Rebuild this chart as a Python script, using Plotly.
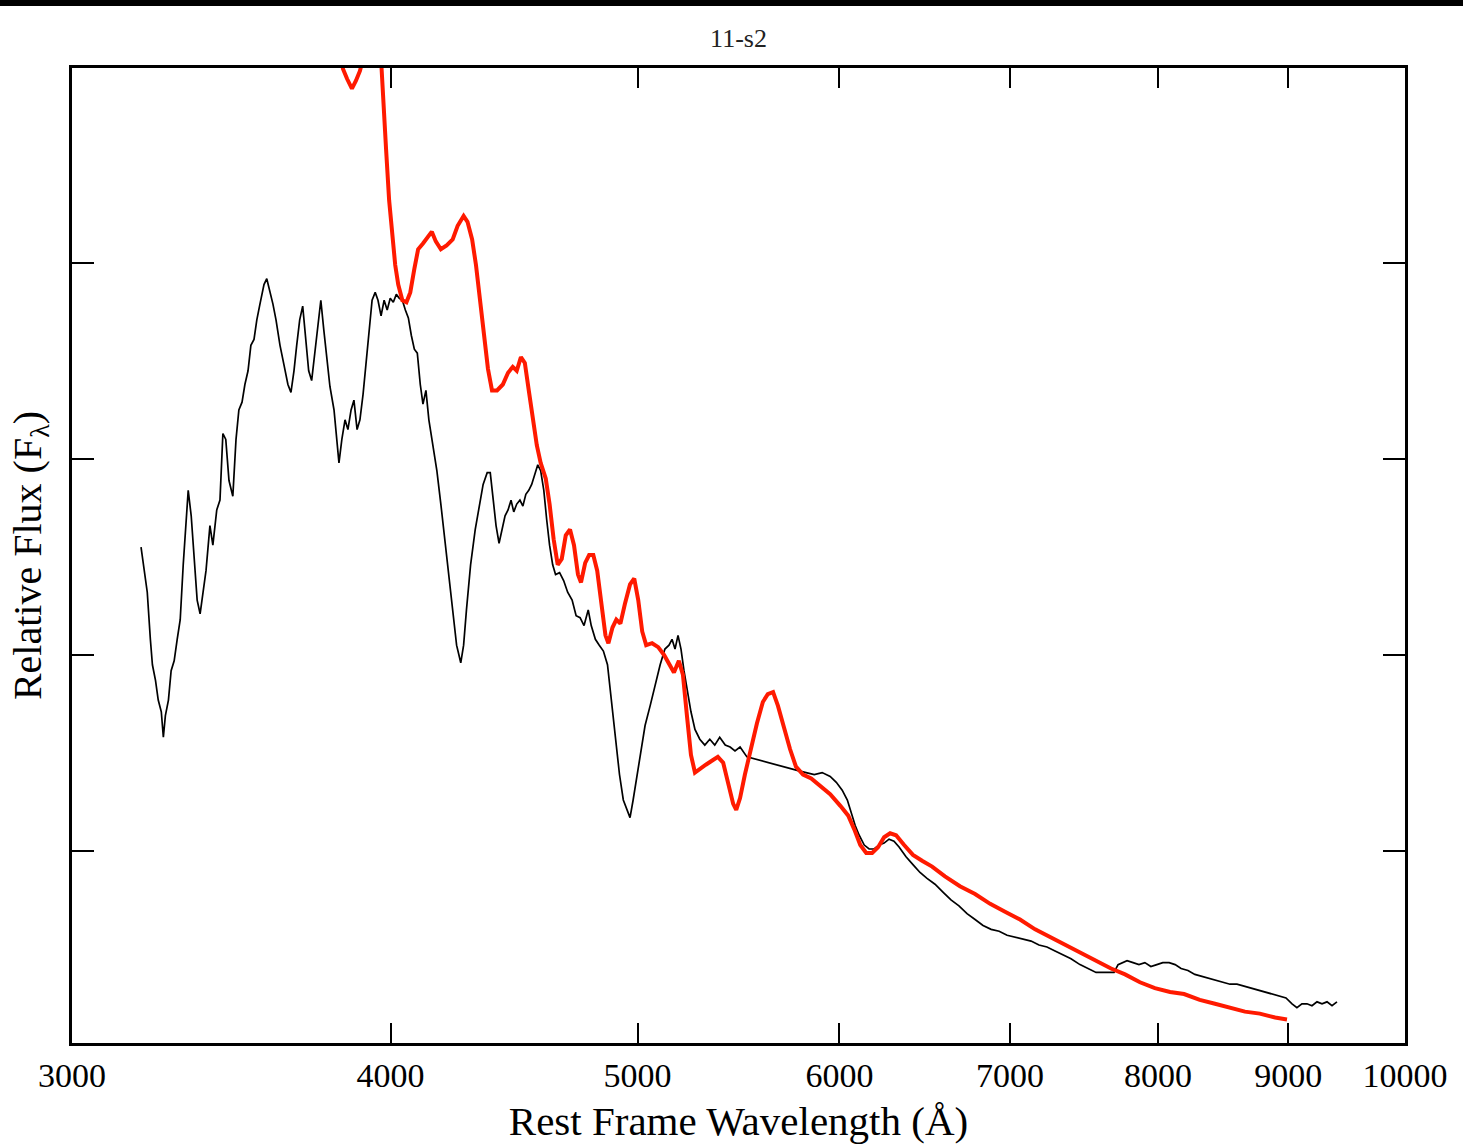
import plotly.graph_objects as go

# Observed spectrum (black)
obs_wave = [3193, 3205, 3211, 3220, 3226, 3235, 3243, 3252, 3258, 3264, 3273, 3281, 3290, 3299, 3308,
            3317, 3326, 3332, 3341, 3350, 3359, 3368, 3377, 3386, 3398, 3407, 3419, 3429, 3438, 3447,
            3457, 3469, 3479, 3488, 3498, 3507, 3517, 3526, 3536, 3545, 3555, 3568, 3577, 3587, 3597,
            3607, 3620, 3633, 3646, 3656, 3666, 3675, 3685, 3695, 3705, 3715, 3725, 3735, 3745, 3756,
            3766, 3777, 3787, 3801, 3811, 3818, 3828, 3839, 3849, 3860, 3870, 3881, 3891, 3902, 3912,
            3923, 3934, 3945, 3955, 3966, 3977, 3988, 3999, 4010, 4021, 4032, 4043, 4054, 4065, 4076,
            4087, 4098, 4109, 4119, 4130, 4141, 4156, 4171, 4186, 4201, 4216, 4231, 4246, 4262, 4273,
            4284, 4300, 4318, 4334, 4349, 4365, 4377, 4389, 4400, 4412, 4424, 4436, 4448, 4460, 4471,
            4483, 4496, 4508, 4520, 4532, 4544, 4557, 4569, 4581, 4594, 4606, 4618, 4631, 4643, 4660,
            4677, 4694, 4713, 4730, 4747, 4764, 4782, 4795, 4813, 4830, 4848, 4866, 4883, 4901, 4919,
            4936, 4954, 4966, 4980, 4998, 5016, 5034, 5057, 5080, 5103, 5125, 5144, 5158, 5172, 5186,
            5200, 5214, 5228, 5247, 5266, 5289, 5313, 5337, 5361, 5385, 5412, 5436, 5460, 5485, 5519,
            5554, 5589, 5624, 5661, 5697, 5738, 5780, 5822, 5865, 5907, 5950, 5983, 6015, 6043, 6064,
            6086, 6108, 6136, 6163, 6191, 6219, 6247, 6275, 6303, 6332, 6372, 6412, 6453, 6494, 6541,
            6588, 6636, 6684, 6733, 6782, 6831, 6881, 6931, 6981, 7032, 7083, 7134, 7185, 7237, 7290,
            7343, 7396, 7456, 7510, 7565, 7620, 7668, 7689, 7717, 7745, 7780, 7822, 7864, 7906, 7949,
            7992, 8035, 8081, 8125, 8169, 8220, 8271, 8323, 8375, 8431, 8485, 8538, 8592, 8646, 8701,
            8756, 8812, 8869, 8925, 8981, 9030, 9070, 9111, 9153, 9194, 9236, 9278, 9320, 9362, 9404]
obs_flux = [2.55, 2.41, 2.32, 2.08, 1.95, 1.87, 1.77, 1.71, 1.58, 1.69, 1.77, 1.92, 1.97, 2.08, 2.18,
            2.46, 2.69, 2.84, 2.71, 2.48, 2.28, 2.21, 2.33, 2.43, 2.66, 2.56, 2.74, 2.79, 3.13, 3.10,
            2.89, 2.81, 3.10, 3.25, 3.29, 3.38, 3.45, 3.58, 3.61, 3.71, 3.79, 3.89, 3.92, 3.86, 3.79,
            3.71, 3.58, 3.48, 3.38, 3.34, 3.45, 3.58, 3.71, 3.78, 3.61, 3.45, 3.40, 3.53, 3.66, 3.81,
            3.66, 3.51, 3.37, 3.25, 3.10, 2.98, 3.10, 3.20, 3.15, 3.25, 3.30, 3.15, 3.20, 3.33, 3.48,
            3.66, 3.81, 3.85, 3.81, 3.73, 3.81, 3.76, 3.82, 3.80, 3.84, 3.82, 3.81, 3.76, 3.72, 3.63,
            3.56, 3.54, 3.38, 3.28, 3.35, 3.20, 3.06, 2.94, 2.77, 2.59, 2.41, 2.23, 2.05, 1.96, 2.05,
            2.23, 2.46, 2.64, 2.77, 2.87, 2.93, 2.93, 2.79, 2.66, 2.57, 2.64, 2.71, 2.74, 2.79, 2.73,
            2.77, 2.79, 2.76, 2.82, 2.84, 2.87, 2.92, 2.97, 2.94, 2.84, 2.69, 2.56, 2.46, 2.41, 2.42,
            2.38, 2.32, 2.28, 2.20, 2.19, 2.15, 2.23, 2.15, 2.08, 2.05, 2.02, 1.95, 1.77, 1.57, 1.39,
            1.26, 1.20, 1.17, 1.26, 1.39, 1.52, 1.64, 1.74, 1.85, 1.95, 2.03, 2.05, 2.08, 2.03, 2.10,
            2.03, 1.92, 1.82, 1.71, 1.62, 1.57, 1.54, 1.57, 1.54, 1.58, 1.54, 1.53, 1.51, 1.53, 1.48,
            1.47, 1.46, 1.45, 1.44, 1.43, 1.42, 1.41, 1.40, 1.39, 1.40, 1.38, 1.35, 1.31, 1.26, 1.20,
            1.13, 1.08, 1.03, 1.01, 1.01, 1.03, 1.04, 1.06, 1.05, 1.02, 0.97, 0.93, 0.89, 0.86, 0.83,
            0.79, 0.75, 0.72, 0.68, 0.65, 0.62, 0.60, 0.59, 0.57, 0.56, 0.55, 0.54, 0.52, 0.51, 0.49,
            0.47, 0.45, 0.42, 0.40, 0.38, 0.38, 0.38, 0.38, 0.42, 0.43, 0.44, 0.43, 0.42, 0.43, 0.41,
            0.42, 0.43, 0.43, 0.42, 0.40, 0.39, 0.37, 0.36, 0.35, 0.34, 0.33, 0.32, 0.32, 0.31, 0.30,
            0.29, 0.28, 0.27, 0.26, 0.25, 0.22, 0.20, 0.22, 0.22, 0.21, 0.23, 0.22, 0.23, 0.21, 0.23]

# Model spectrum (red)
mod_wave = [3808, 3832, 3846, 3863, 3877, 3891, 3905, 3934, 3966, 3973, 3984, 3995, 4006, 4017, 4028,
            4043, 4058, 4072, 4087, 4101, 4119, 4137, 4152, 4167, 4186, 4208, 4231, 4250, 4273, 4288,
            4306, 4321, 4337, 4352, 4368, 4384, 4404, 4427, 4448, 4467, 4483, 4500, 4516, 4532, 4548,
            4565, 4581, 4602, 4618, 4635, 4652, 4669, 4686, 4704, 4721, 4738, 4751, 4769, 4786, 4804,
            4821, 4839, 4857, 4870, 4888, 4905, 4923, 4943, 4966, 4985, 5003, 5021, 5039, 5066, 5094,
            5121, 5149, 5167, 5190, 5209, 5228, 5247, 5266, 5289, 5318, 5347, 5376, 5402, 5426, 5451,
            5466, 5485, 5509, 5539, 5569, 5599, 5624, 5651, 5676, 5707, 5738, 5769, 5806, 5849, 5896,
            5950, 6005, 6048, 6081, 6114, 6147, 6180, 6214, 6247, 6281, 6315, 6361, 6412, 6465, 6524,
            6600, 6690, 6782, 6875, 6968, 7063, 7160, 7257, 7356, 7458, 7565, 7668, 7766, 7871, 7978,
            8088, 8191, 8308, 8423, 8538, 8654, 8771, 8893, 8989]
mod_flux = [5.19, 4.99, 4.94, 4.89, 4.93, 4.98, 5.06, 5.24, 5.04, 4.83, 4.58, 4.32, 4.14, 3.99, 3.89,
            3.81, 3.80, 3.85, 3.97, 4.07, 4.10, 4.13, 4.16, 4.11, 4.07, 4.09, 4.12, 4.19, 4.24, 4.21,
            4.12, 3.99, 3.81, 3.63, 3.46, 3.35, 3.35, 3.38, 3.44, 3.47, 3.45, 3.52, 3.49, 3.35, 3.20,
            3.07, 2.98, 2.90, 2.77, 2.59, 2.46, 2.49, 2.61, 2.64, 2.56, 2.41, 2.37, 2.47, 2.51, 2.51,
            2.43, 2.26, 2.10, 2.06, 2.14, 2.18, 2.16, 2.26, 2.36, 2.39, 2.28, 2.12, 2.05, 2.06, 2.04,
            2.00, 1.95, 1.91, 1.97, 1.90, 1.69, 1.49, 1.40, 1.42, 1.44, 1.46, 1.48, 1.45, 1.35, 1.24,
            1.21, 1.27, 1.39, 1.53, 1.65, 1.76, 1.80, 1.81, 1.74, 1.63, 1.52, 1.43, 1.39, 1.37, 1.33,
            1.29, 1.23, 1.18, 1.11, 1.03, 0.99, 0.99, 1.02, 1.07, 1.09, 1.08, 1.03, 0.98, 0.95, 0.92,
            0.87, 0.82, 0.78, 0.73, 0.69, 0.65, 0.60, 0.56, 0.52, 0.48, 0.44, 0.40, 0.37, 0.33, 0.30,
            0.28, 0.27, 0.24, 0.22, 0.20, 0.18, 0.17, 0.15, 0.14]

x_tickvals = [3000, 4000, 5000, 6000, 7000, 8000, 9000, 10000]
x_ticktext = ["3000", "4000", "5000", "6000", "7000", "8000", "9000", "10000"]
y_tickvals = [1, 2, 3, 4]

FONT = "Liberation Serif, Times New Roman, serif"

fig = go.Figure()
fig.add_trace(go.Scatter(x=obs_wave, y=obs_flux, mode="lines",
                         line=dict(color="black", width=1.7), showlegend=False))
fig.add_trace(go.Scatter(x=mod_wave, y=mod_flux, mode="lines",
                         line=dict(color="#ff1a00", width=4), showlegend=False))

fig.update_layout(
    width=1463, height=1148,
    margin=dict(l=72, r=58, t=68, b=105),
    paper_bgcolor="white", plot_bgcolor="white",
    font=dict(family=FONT, color="black"),
    title=dict(text="11-s2", x=0.5, xref="paper", y=1 - 38 / 1148, yanchor="middle",
               font=dict(family=FONT, size=26, color="#222")),
    xaxis=dict(type="log", range=[3.47712, 4.0], tickvals=x_tickvals, ticktext=x_ticktext,
               ticks="inside", ticklen=20, tickwidth=2, tickcolor="black",
               showline=True, linecolor="black", linewidth=3, mirror="ticks",
               showgrid=False, zeroline=False,
               tickfont=dict(family=FONT, size=34, color="black"),
               title=dict(text="Rest Frame Wavelength (Å)", standoff=14,
                          font=dict(family=FONT, size=41, color="black"))),
    yaxis=dict(range=[0.02, 4.995], tickvals=y_tickvals, showticklabels=False,
               ticks="inside", ticklen=22, tickwidth=2, tickcolor="black",
               showline=True, linecolor="black", linewidth=3, mirror="ticks",
               showgrid=False, zeroline=False,
               title=dict(text="Relative Flux (F<sub>λ</sub>)", standoff=16,
                          font=dict(family=FONT, size=40, color="black"))),
    shapes=[dict(type="rect", xref="paper", yref="paper",
                 x0=-72 / 1333, x1=(1463 - 72) / 1333,
                 y0=(1043 - 6) / 975, y1=(1043 + 2) / 975,
                 fillcolor="black", line=dict(width=0), layer="above")],
)

fig.write_html("out.html")
